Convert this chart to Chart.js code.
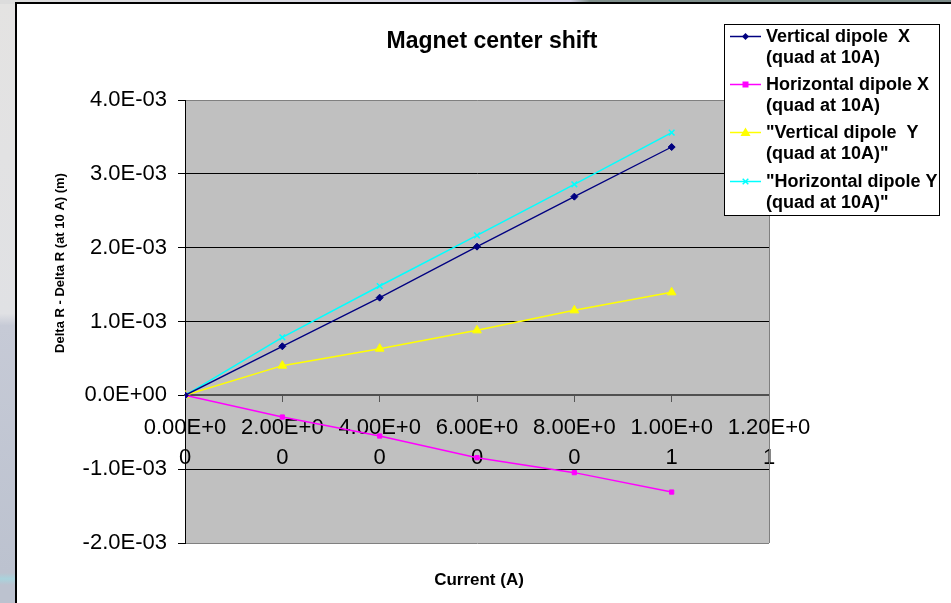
<!DOCTYPE html>
<html>
<head>
<meta charset="utf-8">
<title>Magnet center shift</title>
<script src="https://cdn.jsdelivr.net/npm/chart.js@4.4.1/dist/chart.umd.min.js"></script>
<style>
  html, body { margin: 0; padding: 0; }
  body {
    width: 951px; height: 603px; overflow: hidden; position: relative;
    background: linear-gradient(to bottom, #e4e3e2 0%, #e0e1e4 52%, #c6cad6 54%, #bcc2cf 95%, #a9d3dc 96%, #bcc2cf 97%);
  }
  #topstrip {
    position: absolute; left: 0; top: 0; width: 951px; height: 4px;
    background: linear-gradient(to right, #dcdcdc 0%, #d8d8e2 40%, #cfcfe4 60%, #7e8e8a 62%, #7a8a88 100%);
  }
  #panel {
    position: absolute; left: 15px; top: 2px; width: 936px; height: 601px;
    background: #fff; border-left: 2px solid #000; border-top: 2px solid #000;
  }
  canvas { display: block; }
</style>
</head>
<body>
<div id="topstrip"></div>
<div id="panel"><canvas id="chart" width="934" height="599"></canvas></div>
<script>
// Magnet center shift — Excel style scatter, rebuilt with Chart.js

const currents = [0, 2, 4, 6, 8, 10];
const vertDipoleX = [0, 0.000664, 0.001323, 0.002014, 0.002691, 0.003363];
const horizDipoleX = [0, -0.000294, -0.000551, -0.000844, -0.001047, -0.001310];
const vertDipoleY = [0, 0.000402, 0.000632, 0.000880, 0.001151, 0.001395];
const horizDipoleY = [0, 0.000786, 0.001481, 0.002167, 0.002858, 0.003558];

const seriesNames = [
  'Vertical dipole  X\n(quad at 10A)',
  'Horizontal dipole X\n(quad at 10A)',
  '"Vertical dipole  Y\n(quad at 10A)"',
  '"Horizontal dipole Y\n(quad at 10A)"',
];
const seriesColors = ['#000080', '#ff00ff', '#ffff00', '#00ffff'];
const seriesMarkers = ['rectRot', 'rect', 'triangle', 'crossRot'];
const markerSizes = [3.5, 3, 5, 4];

const FONT = "'Liberation Sans', Arial, sans-serif";

// Excel-like scientific format: 4.0E-03
function sci(v, digits) {
  if (Math.abs(v) < 1e-12) v = 0;
  const [m, e] = v.toExponential(digits).split('e');
  const n = parseInt(e, 10);
  return m + 'E' + (n < 0 ? '-' : '+') + String(Math.abs(n)).padStart(2, '0');
}

function toPoints(ys) {
  return currents.map((x, i) => ({ x, y: ys[i] }));
}

const seriesValues = [vertDipoleX, horizDipoleX, vertDipoleY, horizDipoleY];

function drawMarker(ctx, style, x, y, r, color) {
  ctx.save();
  ctx.fillStyle = color;
  ctx.strokeStyle = color;
  ctx.lineWidth = 1.5;
  ctx.beginPath();
  if (style === 'rectRot') {
    ctx.moveTo(x, y - r); ctx.lineTo(x + r, y); ctx.lineTo(x, y + r); ctx.lineTo(x - r, y);
    ctx.closePath(); ctx.fill();
  } else if (style === 'rect') {
    ctx.rect(x - r, y - r, 2 * r, 2 * r); ctx.fill();
  } else if (style === 'triangle') {
    ctx.moveTo(x, y - r); ctx.lineTo(x + r, y + r * 0.7); ctx.lineTo(x - r, y + r * 0.7);
    ctx.closePath(); ctx.fill();
  } else {
    ctx.moveTo(x - r * 0.7, y - r * 0.7); ctx.lineTo(x + r * 0.7, y + r * 0.7);
    ctx.moveTo(x + r * 0.7, y - r * 0.7); ctx.lineTo(x - r * 0.7, y + r * 0.7);
    ctx.stroke();
  }
  ctx.restore();
}

// grey plot area, frame, titles and the boxed legend
const excelLook = {
  id: 'excelLook',
  beforeDraw(chart) {
    const { ctx, chartArea: a } = chart;
    ctx.save();
    ctx.fillStyle = '#c0c0c0';
    ctx.fillRect(a.left, a.top, a.right - a.left, a.bottom - a.top);
    ctx.restore();
  },
  beforeDatasetsDraw(chart) {
    const { ctx, chartArea: a } = chart;
    ctx.save();
    ctx.strokeStyle = '#808080';
    ctx.lineWidth = 1;
    ctx.beginPath();
    ctx.moveTo(a.right + 0.5, a.top);
    ctx.lineTo(a.right + 0.5, a.bottom);
    ctx.stroke();
    ctx.restore();
  },
  afterDraw(chart) {
    const { ctx } = chart;
    ctx.save();
    ctx.fillStyle = '#000';
    ctx.textAlign = 'center';
    ctx.textBaseline = 'alphabetic';

    ctx.font = 'bold 23px ' + FONT;
    ctx.fillText('Magnet center shift', 475, 44);

    ctx.font = 'bold 17px ' + FONT;
    ctx.fillText('Current (A)', 462, 581);

    ctx.save();
    ctx.translate(43, 259);
    ctx.rotate(-Math.PI / 2);
    ctx.font = 'bold 13px ' + FONT;
    ctx.textBaseline = 'middle';
    ctx.fillText('Delta R - Delta R (at 10 A) (m)', 0, 0);
    ctx.restore();

    // legend box
    const bx = 707, by = 20, bw = 215, bh = 191;
    ctx.fillStyle = '#fff';
    ctx.fillRect(bx, by, bw, bh);
    ctx.strokeStyle = '#000';
    ctx.lineWidth = 1;
    ctx.strokeRect(bx + 0.5, by + 0.5, bw, bh);

    ctx.font = 'bold 18px ' + FONT;
    ctx.textAlign = 'left';
    ctx.textBaseline = 'alphabetic';
    chart.data.datasets.forEach((ds, i) => {
      const base = 37.7 + i * 48.3;
      const ly = Math.round(base - 6) + 0.5;
      ctx.strokeStyle = ds.borderColor;
      ctx.lineWidth = 1.5;
      ctx.beginPath();
      ctx.moveTo(713, ly);
      ctx.lineTo(744, ly);
      ctx.stroke();
      drawMarker(ctx, ds.pointStyle, 728.5, ly, ds.pointRadius, ds.pointBackgroundColor);
      ctx.fillStyle = '#000';
      ds.label.split('\n').forEach((line, j) => {
        ctx.fillText(line, 749, base + j * 21);
      });
    });
    ctx.restore();
  },
};

const datasets = seriesValues.map((vals, i) => ({
  label: seriesNames[i],
  data: toPoints(vals),
  borderColor: seriesColors[i],
  backgroundColor: seriesColors[i],
  pointBackgroundColor: seriesColors[i],
  pointBorderColor: seriesColors[i],
  pointStyle: seriesMarkers[i],
  pointRadius: markerSizes[i],
  pointBorderWidth: seriesMarkers[i] === 'crossRot' ? 1.5 : 1,
  borderWidth: i === 0 ? 1.3 : 1.5,
  showLine: true,
  tension: 0,
}));

Chart.defaults.font.family = FONT;
Chart.defaults.color = '#000';

new Chart(document.getElementById('chart'), {
  type: 'scatter',
  data: { datasets },
  options: {
    responsive: false,
    animation: false,
    layout: { padding: { top: 96, right: 182, bottom: 60, left: 0 } },
    plugins: {
      legend: { display: false },
      title: { display: false },
      tooltip: { enabled: false },
    },
    scales: {
      x: {
        type: 'linear',
        position: { y: 0 },
        min: 0,
        max: 12,
        grid: { drawOnChartArea: false, drawTicks: true, tickLength: 6, color: '#555' },
        border: { color: '#505050', width: 2 },
        ticks: {
          stepSize: 2,
          autoSkip: false,
          maxRotation: 0,
          padding: 12,
          font: { size: 22, lineHeight: 1.35 },
          callback: (v) => {
            const s = sci(v, 2);
            return [s.slice(0, 7), s.slice(7)];
          },
        },
      },
      y: {
        type: 'linear',
        position: 'left',
        min: -0.002,
        max: 0.004,
        afterFit: (scale) => { scale.width = 168; },
        grid: {
          color: (c) => (c.tick && (Math.abs(c.tick.value - 0.004) < 1e-9 || Math.abs(c.tick.value + 0.002) < 1e-9)) ? '#808080' : '#000',
          tickColor: '#000',
          tickLength: 7,
        },
        border: { color: '#000', width: 1 },
        ticks: {
          stepSize: 0.001,
          padding: 11,
          font: { size: 22 },
          callback: (v) => sci(v, 1),
        },
      },
    },
  },
  plugins: [excelLook],
});
</script>
</body>
</html>
